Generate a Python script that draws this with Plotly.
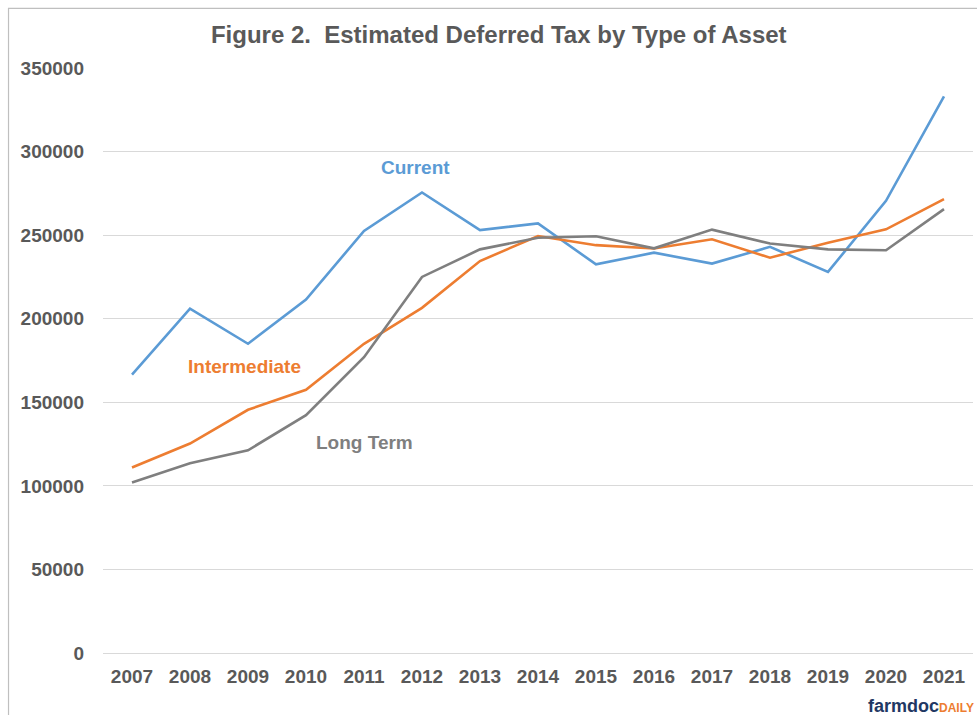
import plotly.graph_objects as go

years = list(range(2007, 2022))
current = [166500, 206000, 185000, 211500, 252500, 275500, 253000, 257000,
           232500, 239500, 233000, 243000, 228000, 270500, 333000]
intermediate = [111000, 125300, 145500, 157500, 185000, 206500, 234500, 249500,
                244000, 242000, 247500, 236500, 245500, 253500, 271500]
long_term = [102000, 113500, 121300, 142300, 177000, 225000, 241500, 248400,
             249300, 242100, 253300, 245000, 241500, 241000, 265600]
y_ticks = list(range(0, 350001, 50000))

blue = "#5B9BD5"
orange = "#ED7D31"
gray = "#7F7F7F"
txt = "#595959"
font_family = "Liberation Sans, Arial, sans-serif"

fig = go.Figure()
for name, vals, color in [("Current", current, blue),
                          ("Intermediate", intermediate, orange),
                          ("Long Term", long_term, gray)]:
    fig.add_trace(go.Scatter(x=years, y=vals, name=name, mode="lines",
                             line=dict(color=color, width=2.6)))

# inline series labels
labels = [("Current", 2011.89, 290400, blue),
          ("Intermediate", 2008.94, 171200, orange),
          ("Long Term", 2011.0, 125700, gray)]
annotations = [dict(x=x, y=y, xref="x", yref="y", text=f"<b>{t}</b>", showarrow=False,
                    font=dict(size=19, color=c, family=font_family))
               for t, x, y, c in labels]

# farmdoc daily logo text
annotations.append(dict(
    x=1.004, y=-0.09, xref="paper", yref="paper", xanchor="right", yanchor="middle",
    text="<b><span style='color:#1F3864;font-size:18px'>farmdoc</span>"
         "<span style='color:#ED7D31;font-size:12px'>DAILY</span></b>",
    showarrow=False, font=dict(family=font_family)))

fig.update_layout(
    width=977, height=715,
    paper_bgcolor="white", plot_bgcolor="white",
    showlegend=False,
    margin=dict(l=103, r=4, t=68, b=62),
    title=dict(text="<b>Figure 2.\u00a0\u00a0Estimated Deferred Tax by Type of Asset</b>",
               x=0.5105, xanchor="center", y=0.952, yanchor="middle",
               font=dict(size=24, color=txt, family=font_family)),
    xaxis=dict(range=[2006.5, 2021.5], tickvals=years,
               ticktext=[f"<b>{y}</b>" for y in years],
               showgrid=False, zeroline=False, showline=False,
               ticklabelstandoff=10,
               tickfont=dict(size=19, color=txt, family=font_family), ticklen=0),
    yaxis=dict(range=[0, 350000], tickvals=y_ticks,
               ticktext=[f"<b>{v}</b>" for v in y_ticks],
               gridcolor="#D9D9D9", gridwidth=1.3, zeroline=True,
               zerolinecolor="#D9D9D9", zerolinewidth=1.3, showline=False,
               ticklabelstandoff=18,
               tickfont=dict(size=19, color=txt, family=font_family)),
    annotations=annotations,
    shapes=[dict(type="rect", xref="paper", yref="paper",
                 x0=-0.1086, x1=1.05, y0=-0.3, y1=1.1018,
                 line=dict(color="#BFBFBF", width=1.2), fillcolor="rgba(0,0,0,0)",
                 layer="below")],
)

fig.write_html("out.html", config={"displayModeBar": False},
               post_script="document.body.style.margin='0';")
